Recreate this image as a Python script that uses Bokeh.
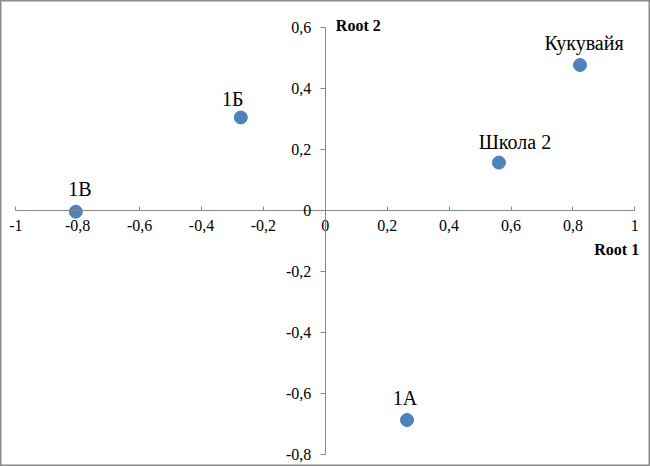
from bokeh.plotting import figure
from bokeh.models import ColumnDataSource, LinearAxis, FixedTicker, Label, Range1d
from bokeh.core.properties import value
from bokeh.embed import file_html
from bokeh.resources import INLINE

# ---- data ----
names = ["Кукувайя", "Школа 2", "1Б", "1В", "1А"]
root1 = [0.823, 0.561, -0.273, -0.806, 0.264]
root2 = [0.478, 0.158, 0.306, -0.003, -0.686]

x_ticks = [-1, -0.8, -0.6, -0.4, -0.2, 0, 0.2, 0.4, 0.6, 0.8, 1]
x_tick_labels = ["-1", "-0,8", "-0,6", "-0,4", "-0,2", "0", "0,2", "0,4", "0,6", "0,8", "1"]
y_ticks = [-0.8, -0.6, -0.4, -0.2, 0, 0.2, 0.4, 0.6]
y_tick_labels = ["-0,8", "-0,6", "-0,4", "-0,2", "0", "0,2", "0,4", "0,6"]

# label pixel offsets (style only)
label_dx = [4, 16, -8, 4, -2]
label_dy = [-22, -21, -18, -23, -22]

SERIF = "'Liberation Serif', 'Times New Roman', serif"
AXIS_COLOR = "#868686"

src = ColumnDataSource(dict(x=root1, y=root2, name=names, dx=label_dx, dy=label_dy))

# frame covers the whole canvas; axes are bounded to their tick span
p = figure(width=650, height=466, output_backend="svg", toolbar_location=None,
           x_range=Range1d(-1.0494, 1.0507), y_range=Range1d(-0.8384, 0.6895),
           x_axis_type=None, y_axis_type=None,
           min_border_left=0, min_border_right=0, min_border_top=0, min_border_bottom=0)
p.grid.visible = False
p.outline_line_color = "#8a8a8a"
p.outline_line_width = 2
p.background_fill_color = "white"
p.border_fill_color = "white"

xa = LinearAxis(fixed_location=0, ticker=FixedTicker(ticks=x_ticks), bounds=(-1, 1))
xa.major_label_overrides = {t: l for t, l in zip(x_ticks, x_tick_labels)}
xa.axis_line_color = AXIS_COLOR
xa.major_tick_line_color = AXIS_COLOR
xa.major_tick_in = 4
xa.major_tick_out = 0
xa.minor_tick_line_color = None
xa.major_label_standoff = 9
xa.major_label_text_font = SERIF
xa.major_label_text_font_size = "16px"
xa.major_label_text_color = "black"
p.add_layout(xa, "below")

ya = LinearAxis(fixed_location=0, ticker=FixedTicker(ticks=y_ticks), bounds=(-0.8, 0.6))
ya.major_label_overrides = {t: l for t, l in zip(y_ticks, y_tick_labels)}
ya.axis_line_color = AXIS_COLOR
ya.major_tick_line_color = AXIS_COLOR
ya.major_tick_in = 0
ya.major_tick_out = 5
ya.minor_tick_line_color = None
ya.major_label_standoff = 9
ya.major_label_text_font = SERIF
ya.major_label_text_font_size = "16px"
ya.major_label_text_color = "black"
p.add_layout(ya, "left")

p.scatter("x", "y", source=src, size=13, fill_color="#4F81BD", line_color="#4F81BD")
p.text("x", "y", text="name", source=src, x_offset="dx", y_offset="dy",
       text_align="center", text_baseline="middle",
       text_font=value(SERIF), text_font_size="20px", text_color="black")

p.add_layout(Label(x=1.014, y=-0.126, text="Root 1", text_align="right", text_baseline="middle",
                   text_font=SERIF, text_font_style="bold", text_font_size="16px",
                   text_color="black"))
p.add_layout(Label(x=0.034, y=0.607, text="Root 2", text_align="left", text_baseline="middle",
                   text_font=SERIF, text_font_style="bold", text_font_size="16px",
                   text_color="black"))

open("out.html", "w").write(file_html(p, INLINE))
